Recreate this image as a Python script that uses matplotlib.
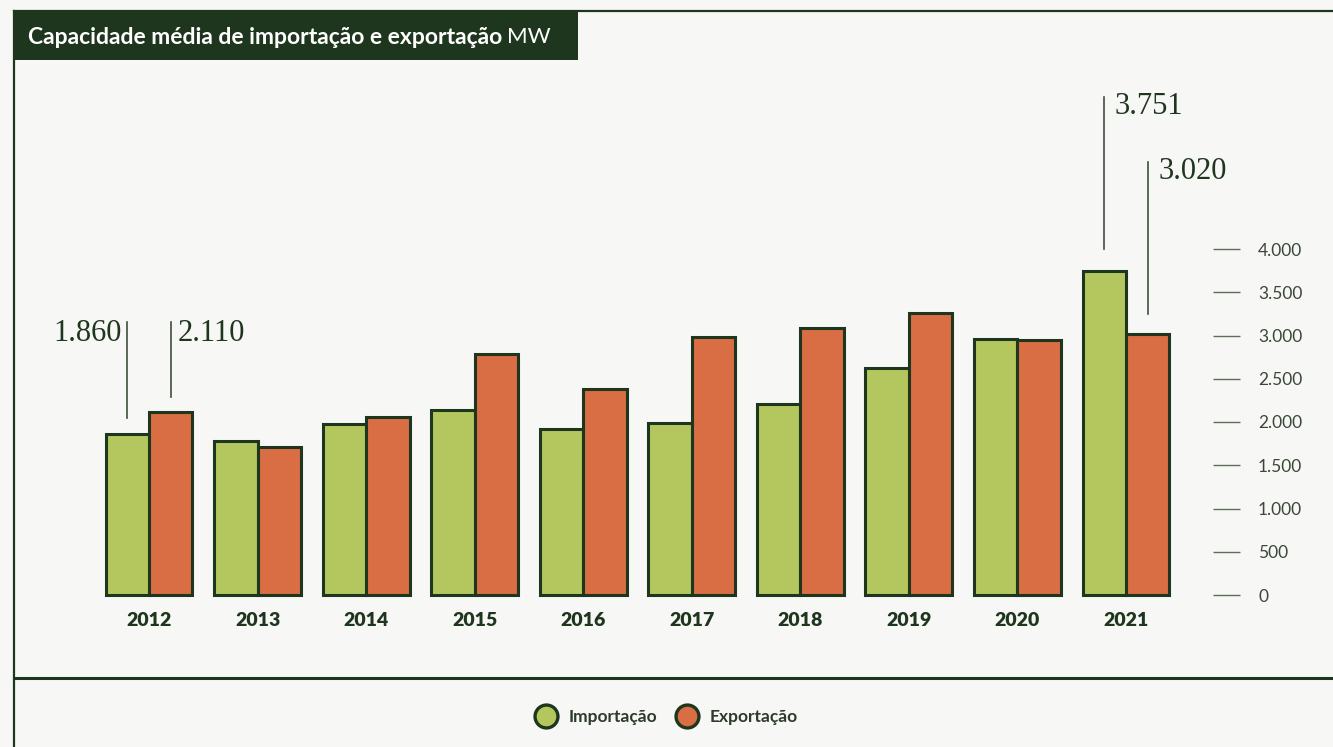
import matplotlib
matplotlib.use("Agg")
import matplotlib.pyplot as plt
from matplotlib.lines import Line2D
from matplotlib.patches import Rectangle
import numpy as np

years = ["2012", "2013", "2014", "2015", "2016", "2017", "2018", "2019", "2020", "2021"]
importacao = [1860, 1780, 1975, 2140, 1920, 1990, 2210, 2625, 2960, 3751]
exportacao = [2110, 1710, 2060, 2790, 2385, 2985, 3090, 3260, 2950, 3020]
yticks = [0, 500, 1000, 1500, 2000, 2500, 3000, 3500, 4000]
ytick_labels = ["0", "500", "1.000", "1.500", "2.000", "2.500", "3.000", "3.500", "4.000"]
highlight_labels = {0: ("1.860", "2.110"), 9: ("3.751", "3.020")}

BG = "#f7f7f5"
DARK = "#1f361e"
GREEN = "#b3c75e"
ORANGE = "#d96d44"
TICKC = "#5f6e5b"
SANS = ["Lato", "DejaVu Sans"]
SERIF = ["Liberation Serif", "DejaVu Serif"]

W, H = 1333, 747
fig = plt.figure(figsize=(W / 100, H / 100), dpi=100, facecolor=BG)

def fx(px):
    return px / W

def fy(py):
    return 1 - py / H

# axes geometry (pixels)
ax_l, ax_r, ax_b, ax_t = 50, 1240, 595, 90
ax = fig.add_axes([fx(ax_l), fy(ax_b), fx(ax_r - ax_l), fy(ax_t) - fy(ax_b)])
ax.set_facecolor(BG)

x = np.arange(len(years))
bw = 0.4
ax.bar(x - bw / 2, importacao, bw, color=GREEN, edgecolor=DARK, linewidth=2.2, zorder=3, clip_on=False)
ax.bar(x + bw / 2, exportacao, bw, color=ORANGE, edgecolor=DARK, linewidth=2.2, zorder=3, clip_on=False)

pxu = 108.56  # pixels per category
ax.set_xlim((ax_l - 149) / pxu, (ax_r - 149) / pxu)
mw_per_px = 4000 / 346
ax.set_ylim(0, (ax_b - ax_t) * mw_per_px)

for s in ax.spines.values():
    s.set_visible(False)

ax.set_xticks(x, years)
ax.tick_params(axis="x", length=0, pad=12, labelsize=14, labelcolor=DARK)
for lab in ax.get_xticklabels():
    lab.set_fontfamily(SANS)
    lab.set_fontweight("heavy")

ax.yaxis.set_ticks_position("right")
ax.set_yticks(yticks, ytick_labels)
ax.tick_params(axis="y", direction="in", length=19.5, width=1.0, color=TICKC,
               pad=13, labelsize=12.5, labelcolor="#3a4838")
for lab in ax.get_yticklabels():
    lab.set_fontfamily(SANS)

def px2mw(p):
    return p * mw_per_px

LC = "#3f4f3c"
# 2012
i = 0
lab_imp, lab_exp = highlight_labels[i]
top12 = importacao[i] + px2mw(112)
ax.plot([i - bw / 2] * 2, [importacao[i] + px2mw(16), top12], color=LC, lw=1.2, zorder=4)
ax.plot([i + bw / 2] * 2, [exportacao[i] + px2mw(15), top12], color=LC, lw=1.2, zorder=4)
ax.text(i - bw / 2 - 0.05, top12 - px2mw(11), lab_imp, ha="right", va="center",
        fontfamily=SERIF, fontsize=22, color=DARK)
ax.text(i + bw / 2 + 0.06, top12 - px2mw(11), lab_exp, ha="left", va="center",
        fontfamily=SERIF, fontsize=22, color=DARK)
# 2021
i = 9
lab_imp, lab_exp = highlight_labels[i]
ti = importacao[i] + px2mw(174)
te = exportacao[i] + px2mw(172)
ax.plot([i - bw / 2] * 2, [importacao[i] + px2mw(22), ti], color=LC, lw=1.2, zorder=4, clip_on=False)
ax.plot([i + bw / 2] * 2, [exportacao[i] + px2mw(20), te], color=LC, lw=1.2, zorder=4, clip_on=False)
ax.text(i - bw / 2 + 0.09, ti - px2mw(10), lab_imp, ha="left", va="center",
        fontfamily=SERIF, fontsize=22, color=DARK, clip_on=False)
ax.text(i + bw / 2 + 0.1, te - px2mw(10), lab_exp, ha="left", va="center",
        fontfamily=SERIF, fontsize=22, color=DARK, clip_on=False)

# frame
fig.add_artist(Line2D([fx(14), fx(14)], [fy(11), fy(747)], color=DARK, lw=1.6))
fig.add_artist(Line2D([fx(14), fx(1333)], [fy(11), fy(11)], color=DARK, lw=1.6))
fig.add_artist(Line2D([fx(14), fx(1333)], [fy(678), fy(678)], color=DARK, lw=2.2))
fig.add_artist(Rectangle((fx(14), fy(60)), fx(564), fy(12) - fy(60), transform=fig.transFigure,
                         facecolor=DARK, edgecolor="none", zorder=1))

t = fig.text(fx(28), fy(37), "Capacidade média de importação e exportação", ha="left", va="center",
             fontfamily=SANS, fontweight="bold", fontsize=16.5, color="white", zorder=5)
fig.canvas.draw()
bb = t.get_window_extent(renderer=fig.canvas.get_renderer())
fig.text(fx(bb.x1 + 5), fy(37), "MW", ha="left", va="center",
         fontfamily=SANS, fontweight="normal", fontsize=16, color="white", zorder=5)

handles = [Line2D([], [], marker="o", ls="", ms=16.5, mfc=GREEN, mec=DARK, mew=2.4),
           Line2D([], [], marker="o", ls="", ms=16.5, mfc=ORANGE, mec=DARK, mew=2.4)]
leg = fig.legend(handles, ["Importação", "Exportação"], loc="center", ncol=2,
                 bbox_to_anchor=(fx(665), fy(717)), frameon=False,
                 handletextpad=0.5, columnspacing=0.9, handlelength=1.6,
                 prop={"family": SANS, "weight": "bold", "size": 12.5})
for txt in leg.get_texts():
    txt.set_color("#2d3b2b")

fig.savefig("out.png", dpi=100, facecolor=BG)
